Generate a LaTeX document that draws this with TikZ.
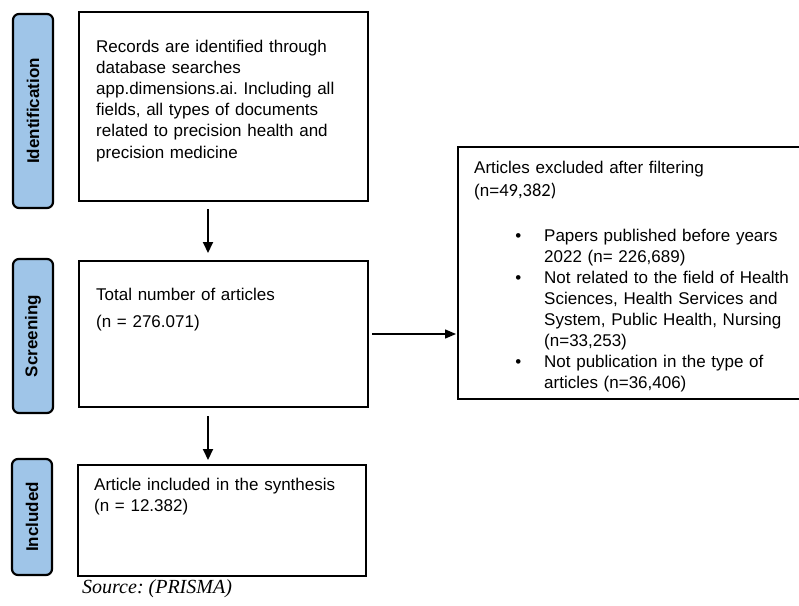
\documentclass[tikz,border=0pt]{standalone}
\usepackage{fontspec}
\setmainfont{Liberation Sans}
\newfontfamily\calibrifont{Carlito}
\newfontfamily\timesfont{Liberation Serif}
\usetikzlibrary{arrows.meta}
\definecolor{stageblue}{HTML}{9FC5E8}
\frenchspacing

\newcommand{\exitem}{\leavevmode\llap{\textbullet\hspace{23pt}}}

\tikzset{
  stage/.style={draw=black, line width=2.2pt, rounded corners=6pt, fill=stageblue,
    minimum height=40pt, inner sep=0pt, rotate=90,
    font=\bfseries\fontsize{17}{20}\selectfont},
  flowbox/.style={draw=black, line width=2pt, inner sep=0pt},
  txt/.style={anchor=base west, inner sep=0pt, align=left, text width=#1},
  arr/.style={line width=2pt, -{Triangle[length=11pt,width=10pt]}},
}

\begin{document}
\begin{tikzpicture}[x=1pt, y=-1pt, font=\fontsize{17}{21.3}\selectfont]
  \clip (0,0) rectangle (799,605);

  % stages on the left
  \node[stage, minimum width=194pt] (idstage) at (33,111) {Identification};
  \node[stage, minimum width=154pt] (scrstage) at (33,336) {Screening};
  \node[stage, minimum width=116pt] (incstage) at (32,517) {Included};

  % boxes
  \node[flowbox, minimum width=289pt, minimum height=189pt] (idbox) at (223.5,106.5) {};
  \node[flowbox, minimum width=289pt, minimum height=146pt] (totbox) at (223.5,334) {};
  \node[flowbox, minimum width=288pt, minimum height=111pt] (incbox) at (222,520.5) {};
  \node[flowbox, minimum width=362pt, minimum height=252pt] (exbox) at (639,273) {};

  % texts
  \node[txt=270pt, font=\fontsize{17}{21.2}\selectfont] (idtext) at (96,52)
    {Records are identified through\\
     database searches\\
     app.dimensions.ai. Including all\\
     fields, all types of documents\\
     related to precision health and\\
     precision medicine};
  \node[txt=260pt, font=\fontsize{17}{27}\selectfont] (tottext) at (96,300)
    {Total number of articles\\
     (n = 276.071)};
  \node[txt=260pt, font=\fontsize{17}{21.5}\selectfont] (inctext) at (94,490)
    {Article included in the synthesis\\
     (n = 12.382)};
  \node[txt=320pt, font=\fontsize{17}{23}\selectfont] (exhead) at (474,173)
    {Articles excluded after filtering\\
     (n={\calibrifont\fontsize{18.5}{23}\selectfont 49,382)}};
  \node[txt=280pt, font=\fontsize{17}{20.9}\selectfont] (exlist) at (544,241.7)
    {\exitem Papers published before years\\
     2022 (n= 226,689)\\
     \exitem Not related to the field of Health\\
     Sciences, Health Services and\\
     System, Public Health, Nursing\\
     (n=33,253)\\
     \exitem Not publication in the type of\\
     articles (n=36,406)};
  \node[anchor=base west, inner sep=0pt, font=\timesfont\itshape\fontsize{20}{22}\selectfont]
    (src) at (82,593) {Source: (PRISMA)};

  % connectors
  \coordinate (downx) at (208,0);
  \draw[arr, shorten <=7pt, shorten >=7pt] (idbox.south -| downx) -- (totbox.north -| downx);
  \draw[arr, shorten <=8pt, shorten >=4pt] (totbox.south -| downx) -- (incbox.north -| downx);
  \draw[line width=1.3pt, -{Triangle[length=11pt,width=9pt]}, shorten <=3pt, shorten >=1pt]
    (totbox.east) -- (totbox.east -| exbox.west);
\end{tikzpicture}
\end{document}
